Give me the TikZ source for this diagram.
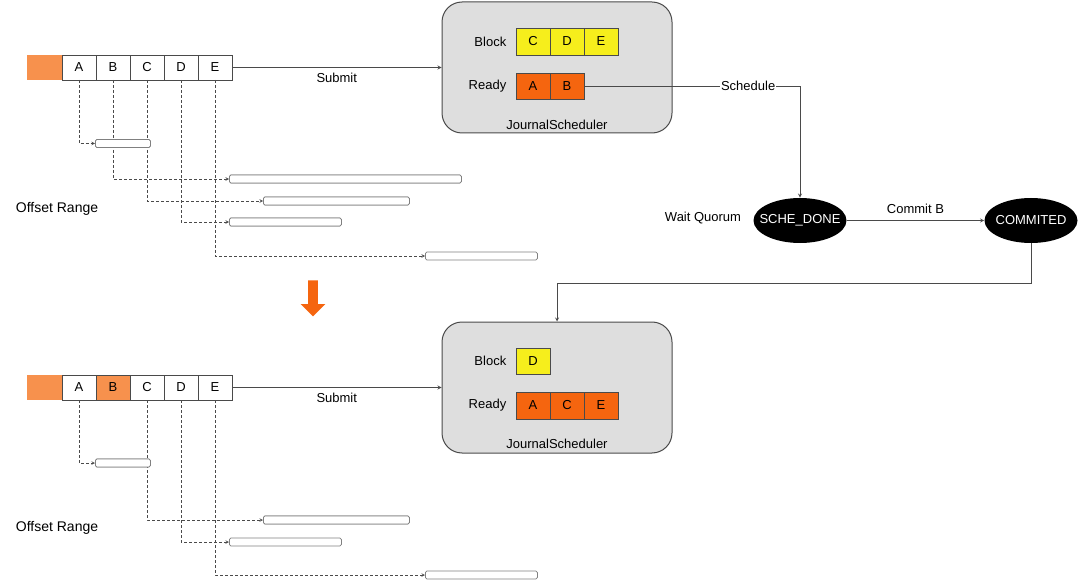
\documentclass[tikz,border=0pt]{standalone}
\usepackage{fontspec}
\setmainfont{Liberation Sans}
\usetikzlibrary{positioning,shapes.geometric,shapes.arrows}
\definecolor{headorange}{HTML}{F7914D}
\definecolor{readyorange}{HTML}{F5650F}
\definecolor{blockyellow}{HTML}{F6EE1C}
\definecolor{boxgray}{HTML}{DEDEDE}
\definecolor{linegray}{HTML}{4A4A4A}

\begin{document}
\begin{tikzpicture}[x=1pt,y=-1pt,->,>=stealth,line width=0.8pt,draw=linegray,font=\fontsize{13}{15}\selectfont,
cell/.style={draw=linegray, fill=white, minimum width=34, minimum height=25, inner sep=0, outer sep=0},
sched/.style={draw=linegray, fill=boxgray, rounded corners=20, minimum width=230, minimum height=131, line width=1pt},
offsetbar/.style={draw=gray, fill=white, rounded corners=1.5, minimum height=8, inner sep=0, anchor=west},
offsetline/.style={densely dashed, line width=0.6pt},
phase/.style={ellipse, fill=black, text=white, minimum width=93, minimum height=45, inner xsep=-8pt, inner ysep=0}]
\useasboundingbox (0,0) rectangle (1080,583);
% top row
\node[cell, fill=headorange, draw=none, minimum width=35] (tOff) at (44.5,67.5) {};
\node[cell] (tA) at (79,67.5) {A};
\node[cell, right=0pt of tA] (tB) {B};
\node[cell, right=0pt of tB] (tC) {C};
\node[cell, right=0pt of tC] (tD) {D};
\node[cell, right=0pt of tD] (tE) {E};
\node[sched] (sched1) at (557,67.5) {};
\node[cell, fill=blockyellow, minimum height=27] (bC) at (533,41.5) {C};
\node[cell, fill=blockyellow, minimum height=27, right=0pt of bC] (bD) {D};
\node[cell, fill=blockyellow, minimum height=27, right=0pt of bD] (bE) {E};
\node[cell, fill=readyorange, minimum height=26] (rA) at (533,86) {A};
\node[cell, fill=readyorange, minimum height=26, right=0pt of rA] (rB) {B};
\node[left=6pt of bC] (bl1) {Block};
\node[left=6pt of rA] (rl1) {Ready};
\node (jl1) at (557,125) {JournalScheduler};
\node[offsetbar, minimum width=55] (o1) at (95,143.5) {};
\node[offsetbar, minimum width=232] (o2) at (229,179) {};
\node[offsetbar, minimum width=146] (o3) at (263,201) {};
\node[offsetbar, minimum width=112] (o4) at (229,222) {};
\node[offsetbar, minimum width=112] (o5) at (425,256) {};
\node[font=\fontsize{14}{16}\selectfont] (or1) at (57,209) {Offset Range};
% states
\node[phase] (sche) at (800,220.5) {SCHE\_DONE};
\node[phase] (commit) at (1031,220.5) {COMMITED};
\node (wq) at (703,218) {Wait Quorum};
\coordinate (turn) at (1031,283);
\node[single arrow, fill=readyorange, draw=none, shape border rotate=270, minimum height=36, single arrow head extend=7.5, inner sep=4.5] (down) at (313,296) {};
% bottom row
\node[cell, fill=headorange, draw=none, minimum width=35] (t2Off) at (44.5,387.5) {};
\node[cell] (t2A) at (79,387.5) {A};
\node[cell, fill=headorange, right=0pt of t2A] (t2B) {B};
\node[cell, right=0pt of t2B] (t2C) {C};
\node[cell, right=0pt of t2C] (t2D) {D};
\node[cell, right=0pt of t2D] (t2E) {E};
\node[sched] (sched2) at (557,387.5) {};
\node[cell, fill=blockyellow, minimum height=26] (b2D) at (533,361) {D};
\node[cell, fill=readyorange, minimum height=27] (r2A) at (533,405.5) {A};
\node[cell, fill=readyorange, minimum height=27, right=0pt of r2A] (r2C) {C};
\node[cell, fill=readyorange, minimum height=27, right=0pt of r2C] (r2E) {E};
\node[left=6pt of b2D] (bl2) {Block};
\node[left=6pt of r2A] (rl2) {Ready};
\node (jl2) at (557,444) {JournalScheduler};
\node[font=\fontsize{14}{16}\selectfont] (or2) at (57,528) {Offset Range};
% connectors
\path (tE) edge node[midway, below=2pt] {Submit} (sched1);
\draw (rB) -| node[pos=0.38, fill=white, inner sep=1pt] {Schedule} (sche);
\path (sche) edge node[midway, above=3pt] {Commit B} (commit);
\draw (commit) -- (turn) -| (sched2);
\path (t2E) edge node[midway, below=2pt] {Submit} (sched2);
% offset ranges, top
\draw[offsetline] (tA) |- (o1);
\draw[offsetline] (tB) |- (o2);
\draw[offsetline] (tC) |- (o3);
\draw[offsetline] (tD) |- (o4);
\draw[offsetline] (tE) |- (o5);
% offset ranges, bottom
\node[offsetbar, minimum width=55] (p1) at (95,463) {};
\node[offsetbar, minimum width=146] (p3) at (263,520) {};
\node[offsetbar, minimum width=112] (p4) at (229,542) {};
\node[offsetbar, minimum width=112] (p5) at (425,575) {};
\draw[offsetline] (t2A) |- (p1);
\draw[offsetline] (t2C) |- (p3);
\draw[offsetline] (t2D) |- (p4);
\draw[offsetline] (t2E) |- (p5);
% bars on top of the lines
\node[offsetbar, minimum width=55] at (95,143.5) {};
\node[offsetbar, minimum width=232] at (229,179) {};
\node[offsetbar, minimum width=146] at (263,201) {};
\node[offsetbar, minimum width=112] at (229,222) {};
\node[offsetbar, minimum width=55] at (95,463) {};
\node[offsetbar, minimum width=146] at (263,520) {};
\end{tikzpicture}
\end{document}
